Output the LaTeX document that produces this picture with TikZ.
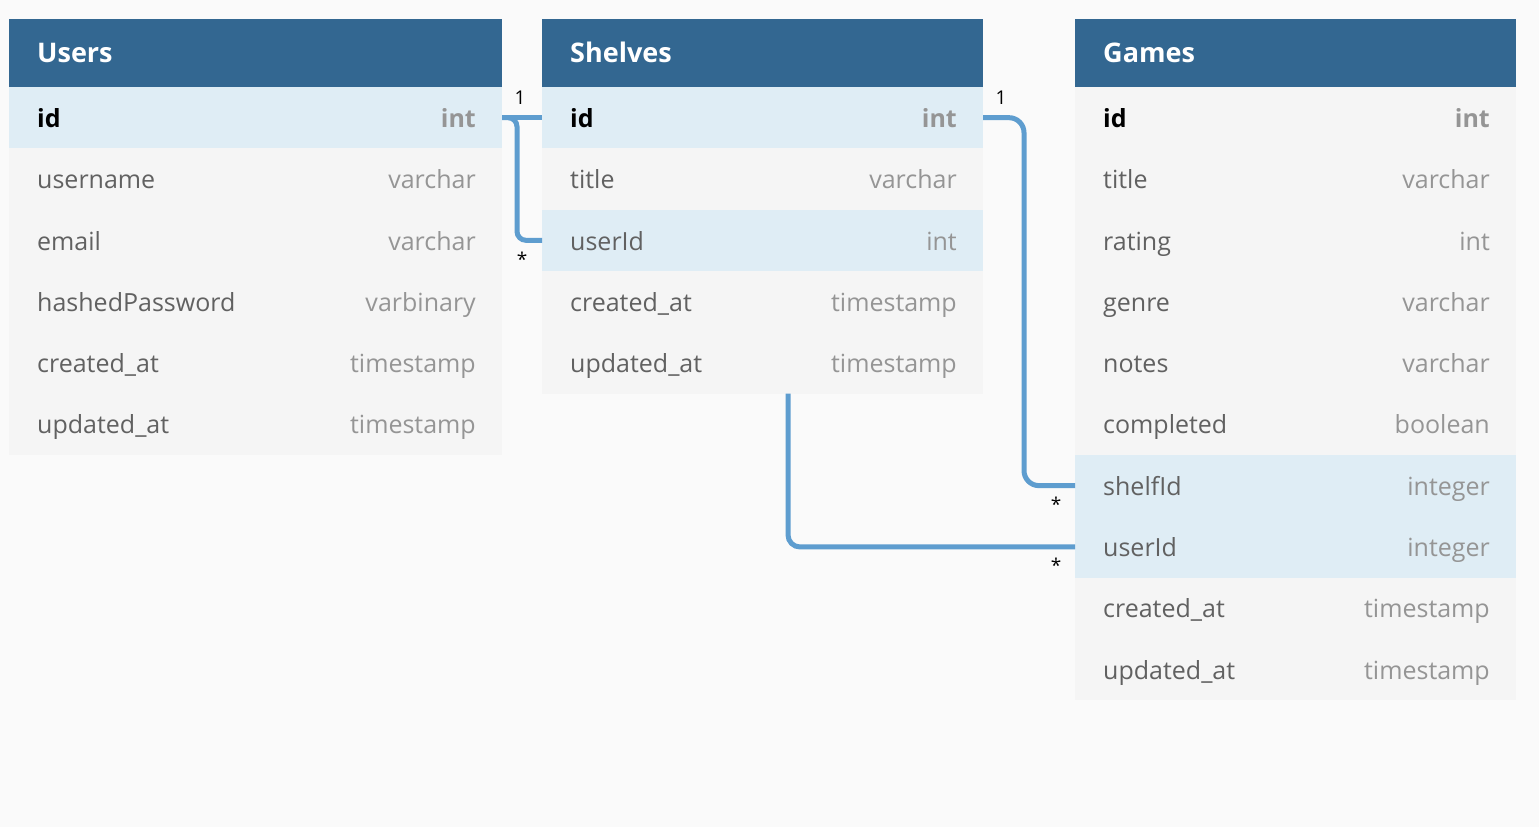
\documentclass[tikz,border=0pt]{standalone}
\usepackage{fontspec}
\setmainfont{Open Sans}
\usetikzlibrary{calc}
\definecolor{bg}{HTML}{FAFAFA}
\definecolor{hdr}{HTML}{336791}
\definecolor{hl}{HTML}{DFEDF5}
\definecolor{rowc}{HTML}{F5F5F5}
\definecolor{fld}{HTML}{616161}
\definecolor{typ}{HTML}{959595}
\definecolor{conn}{HTML}{5E9DCF}
\tikzset{
  hdrbox/.style={fill=hdr, minimum height=68pt, anchor=north west, inner sep=0pt, outer sep=0pt},
  rowbox/.style={minimum height=61.33pt, anchor=north west, inner sep=0pt, outer sep=0pt},
  hdrtext/.style={anchor=mid west, text=white, font=\fontsize{27}{30}\selectfont\bfseries, inner sep=0pt},
  fldtext/.style={anchor=mid west, text=fld, font=\fontsize{25}{30}\selectfont, inner sep=0pt},
  typtext/.style={anchor=mid east, text=typ, font=\fontsize{25}{30}\selectfont, inner sep=0pt},
  pktext/.style={fldtext, text=black, font=\fontsize{25}{30}\selectfont\bfseries},
  pktyp/.style={typtext, font=\fontsize{25}{30}\selectfont\bfseries},
  connline/.style={draw=conn, line width=5pt},
  card/.style={font=\fontsize{19}{22}\selectfont, text=black, inner sep=0pt},
}
\begin{document}
\begin{tikzpicture}[x=1pt,y=-1pt]
\fill[bg] (0,0) rectangle (1539,827);
\useasboundingbox (0,0) rectangle (1539,827);
% ---------- Users ----------
\node[hdrbox, minimum width=493pt] (uh) at (9,19) {};
\node[hdrtext] (uht) at ($(uh.west)+(28,7)$) {Users};
\node[rowbox, minimum width=493pt, fill=hl] (u-id) at (9,87) {};
\node[pktext] (u-idn) at ($(u-id.west)+(28,7)$) {id};
\node[pktyp] (u-idt) at ($(u-id.east)+(-26,7)$) {int};
\foreach \f/\t [count=\i] in {username/varchar, email/varchar, hashedPassword/varbinary, created\_at/timestamp, updated\_at/timestamp}{
  \node[rowbox, minimum width=493pt, fill=rowc] (u-\i) at (9,87+61.33*\i) {};
  \node[fldtext] (u-\i n) at ($(u-\i.west)+(28,7)$) {\f};
  \node[typtext] (u-\i t) at ($(u-\i.east)+(-26,7)$) {\t};
}
% ---------- Shelves ----------
\node[hdrbox, minimum width=441pt] (sh) at (542,19) {};
\node[hdrtext] (sht) at ($(sh.west)+(28,7)$) {Shelves};
\node[rowbox, minimum width=441pt, fill=hl] (s-id) at (542,87) {};
\node[pktext] (s-idn) at ($(s-id.west)+(28,7)$) {id};
\node[pktyp] (s-idt) at ($(s-id.east)+(-26,7)$) {int};
\foreach \f/\t/\c [count=\i] in {title/varchar/rowc, userId/int/hl, created\_at/timestamp/rowc, updated\_at/timestamp/rowc}{
  \node[rowbox, minimum width=441pt, fill=\c] (s-\i) at (542,87+61.33*\i) {};
  \node[fldtext] (s-\i n) at ($(s-\i.west)+(28,7)$) {\f};
  \node[typtext] (s-\i t) at ($(s-\i.east)+(-26,7)$) {\t};
}
% ---------- Games ----------
\node[hdrbox, minimum width=441pt] (gh) at (1075,19) {};
\node[hdrtext] (ght) at ($(gh.west)+(28,7)$) {Games};
\node[rowbox, minimum width=441pt, fill=rowc] (g-id) at (1075,87) {};
\node[pktext] (g-idn) at ($(g-id.west)+(28,7)$) {id};
\node[pktyp] (g-idt) at ($(g-id.east)+(-26,7)$) {int};
\foreach \f/\t/\c [count=\i] in {title/varchar/rowc, rating/int/rowc, genre/varchar/rowc, notes/varchar/rowc, completed/boolean/rowc, shelfId/integer/hl, userId/integer/hl, created\_at/timestamp/rowc, updated\_at/timestamp/rowc}{
  \node[rowbox, minimum width=441pt, fill=\c] (g-\i) at (1075,87+61.33*\i) {};
  \node[fldtext] (g-\i n) at ($(g-\i.west)+(28,7)$) {\f};
  \node[typtext] (g-\i t) at ($(g-\i.east)+(-26,7)$) {\t};
}
% ---------- Connectors ----------
% Users.id -> Shelves.userId
\draw[connline] (u-id.east) -- (s-id.west);
\draw[connline, rounded corners=9pt] (u-id.east) -- ++(15,0) |- (s-2.west);
\node[card] (c1a) at (520,98) {1};
\node[card] (c1b) at (522,259) {*};
% Shelves.id -> Games.shelfId
\draw[connline, rounded corners=15pt] (s-id.east) -- ++(41,0) |- (g-6.west);
\node[card] (c2a) at (1001,98) {1};
\node[card] (c2b) at (1056,504) {*};
% Shelves -> Games.userId
\coordinate (sb) at ($(s-4.south west)+(246,0)$);
\draw[connline, rounded corners=12pt] (sb) |- (g-7.west);
\node[card] (c3b) at (1056,565) {*};
\end{tikzpicture}
\end{document}
